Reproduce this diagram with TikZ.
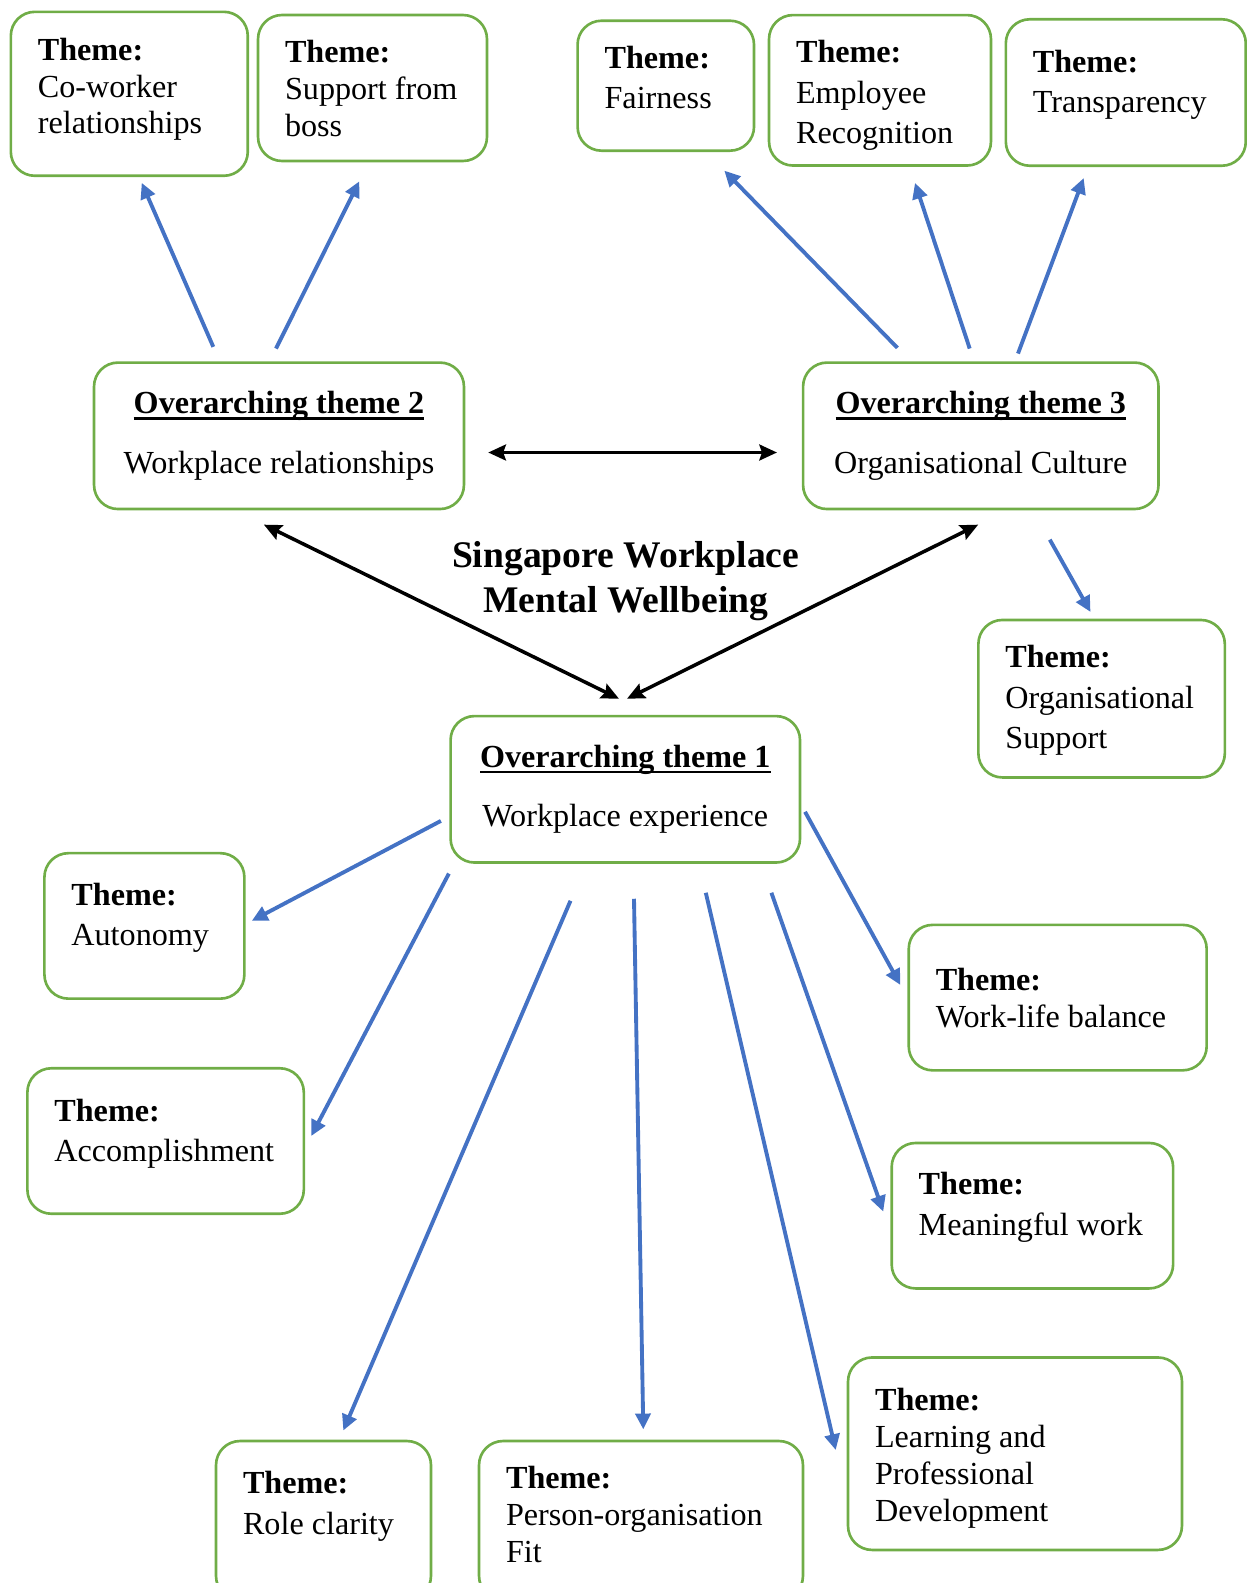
\documentclass[tikz,border=0pt]{standalone}
\usepackage{fontspec}
\setmainfont{Liberation Serif}
\usepackage{tikz}
\usetikzlibrary{positioning,calc,arrows.meta}
\definecolor{boxgreen}{HTML}{70AD47}
\definecolor{arrowblue}{HTML}{4472C4}
\newcommand{\otline}[1]{\setbox0=\hbox{\bfseries #1}\rlap{\rule[-3.5pt]{\wd0}{1.6pt}}\box0}

\begin{document}
\begin{tikzpicture}[x=0.02cm, y=-0.02cm,
    themebox/.style={draw=boxgreen, line width=1.5pt, rounded corners=0.48cm, inner sep=0pt},
    themetxt/.style={align=left, inner sep=0pt, font=\fontsize{18.3pt}{21pt}\selectfont},
    widetxt/.style={themetxt, font=\fontsize{18.3pt}{23pt}\selectfont},
    otbox/.style={themebox, align=center, font=\fontsize{18.3pt}{21pt}\selectfont},
    toblue/.style={draw=arrowblue, line width=2.2pt, -{Triangle[length=9pt, width=8.5pt]}},
    tworay/.style={line width=2pt, {Stealth[length=10pt, width=9pt, inset=1.5pt]}-{Stealth[length=10pt, width=9pt, inset=1.5pt]}}]
    \useasboundingbox (0,0) rectangle (1247,1583);

    % Overarching themes
    \node[otbox, minimum width=7.40cm, minimum height=2.93cm] (ot2) at (279,435.8) {\otline{Overarching theme 2}\\[13pt]Workplace relationships};
    \node[otbox, minimum width=7.11cm, minimum height=2.93cm] (ot3) at (980.8,435.8) {\otline{Overarching theme 3}\\[13pt]Organisational Culture};
    \node[otbox, minimum width=6.99cm, minimum height=2.93cm] (ot1) at (625.3,789.3) {\otline{Overarching theme 1}\\[13pt]Workplace experience};
    \node[align=center, inner sep=0pt, font=\fontsize{21.4pt}{26pt}\selectfont\bfseries] (title) at (625.6,581) {Singapore Workplace\\Mental Wellbeing};

    % Themes of overarching theme 2
    \node[themebox, minimum width=4.74cm, minimum height=3.28cm] (cowork) at (129.3,93.8) {};
    \node[themetxt, below right=0.54cm and 0.56cm of cowork.north west] (cowork-t) {\textbf{Theme:}\\Co-worker\\relationships};
    \node[themebox, minimum width=4.58cm, minimum height=2.92cm] (boss) at (372.5,88) {};
    \node[themetxt, below right=0.53cm and 0.56cm of boss.north west] (boss-t) {\textbf{Theme:}\\Support from\\boss};

    % Themes of overarching theme 3
    \node[themebox, minimum width=3.53cm, minimum height=2.60cm] (fair) at (665.8,85.7) {};
    \node[widetxt, below right=0.52cm and 0.56cm of fair.north west] (fair-t) {\textbf{Theme:}\\Fairness};
    \node[themebox, minimum width=4.44cm, minimum height=3.01cm] (recog) at (880,90.3) {};
    \node[widetxt, below right=0.53cm and 0.56cm of recog.north west] (recog-t) {\textbf{Theme:}\\Employee\\Recognition};
    \node[themebox, minimum width=4.80cm, minimum height=2.93cm] (transp) at (1125.8,92.5) {};
    \node[widetxt, below right=0.63cm and 0.56cm of transp.north west] (transp-t) {\textbf{Theme:}\\Transparency};
    \node[themebox, minimum width=4.93cm, minimum height=3.15cm] (orgsup) at (1101.6,698.7) {};
    \node[widetxt, below right=0.53cm and 0.56cm of orgsup.north west] (orgsup-t) {\textbf{Theme:}\\Organisational\\Support};

    % Themes of overarching theme 1
    \node[themebox, minimum width=4.00cm, minimum height=2.91cm] (autonomy) at (144.4,925.9) {};
    \node[widetxt, below right=0.61cm and 0.56cm of autonomy.north west] (autonomy-t) {\textbf{Theme:}\\Autonomy};
    \node[themebox, minimum width=5.53cm, minimum height=2.91cm] (accomp) at (165.6,1141) {};
    \node[widetxt, below right=0.63cm and 0.56cm of accomp.north west] (accomp-t) {\textbf{Theme:}\\Accomplishment};
    \node[themebox, minimum width=5.96cm, minimum height=2.91cm] (wlb) at (1057.7,997.6) {};
    \node[themetxt, below right=0.89cm and 0.56cm of wlb.north west] (wlb-t) {\textbf{Theme:}\\Work-life balance};
    \node[themebox, minimum width=5.63cm, minimum height=2.91cm] (meaning) at (1032.4,1215.7) {};
    \node[widetxt, below right=0.61cm and 0.56cm of meaning.north west] (meaning-t) {\textbf{Theme:}\\Meaningful work};
    \node[themebox, minimum width=6.68cm, minimum height=3.85cm] (learn) at (1015,1453.7) {};
    \node[themetxt, below right=0.64cm and 0.56cm of learn.north west] (learn-t) {\textbf{Theme:}\\Learning and\\Professional\\Development};
    \node[themebox, minimum width=4.30cm, minimum height=3.18cm] (role) at (323.5,1520.5) {};
    \node[widetxt, below right=0.63cm and 0.56cm of role.north west] (role-t) {\textbf{Theme:}\\Role clarity};
    \node[themebox, minimum width=6.48cm, minimum height=3.18cm] (person) at (641,1520.5) {};
    \node[themetxt, below right=0.53cm and 0.56cm of person.north west] (person-t) {\textbf{Theme:}\\Person-organisation\\Fit};

    % links between overarching themes
    \draw[tworay] ($(ot2.east)+(23,16.7)$) -- ($(ot3.west)+(-24.8,16.7)$);
    \draw[tworay] ($(ot2.south)+(-15.1,14.3)$) -- ($(ot1.north)+(-6.3,-16)$);
    \draw[tworay] ($(ot3.south)+(-2.6,14.3)$) -- ($(ot1.north)+(1.7,-16)$);

    % arrows to the themes
    \draw[toblue] ($(ot2.north)+(-65.7,-14.4)$) -- ($(cowork.south)+(12.4,5.7)$);
    \draw[toblue] ($(ot2.north)+(-3,-12.7)$) -- ($(boss.south)+(-13.2,19)$);
    \draw[toblue] ($(ot3.north)+(-83.4,-13.4)$) -- ($(fair.south)+(58.5,18.6)$);
    \draw[toblue] ($(ot3.north)+(-11.1,-12.7)$) -- ($(recog.south)+(35,16)$);
    \draw[toblue] ($(ot3.north)+(37.2,-7.7)$) -- ($(transp.south)+(-42.1,11)$);
    \draw[toblue] ($(ot3.south)+(69,29.3)$) -- ($(orgsup.north)+(-11.1,-6.7)$);
    \draw[toblue] ($(ot1.west)+(-8.4,31.6)$) -- ($(autonomy.east)+(6.1,-5.1)$);
    \draw[toblue] ($(ot1.south west)+(-0.4,9.7)$) -- ($(accomp.east)+(6.1,-5)$);
    \draw[toblue] ($(ot1.south)+(-54.8,36.9)$) -- ($(role.north)+(19.8,-9.2)$);
    \draw[toblue] ($(ot1.south)+(8.7,34.9)$) -- ($(person.north)+(2.3,-10.3)$);
    \draw[toblue] ($(ot1.south)+(80.5,28.9)$) -- ($(learn.west)+(-11,-3.7)$);
    \draw[toblue] ($(ot1.south)+(146.1,28.9)$) -- ($(meaning.west)+(-7.1,-4.1)$);
    \draw[toblue] ($(ot1.east)+(3.7,22.5)$) -- ($(wlb.west)+(-7,-12.6)$);
\end{tikzpicture}
\end{document}
